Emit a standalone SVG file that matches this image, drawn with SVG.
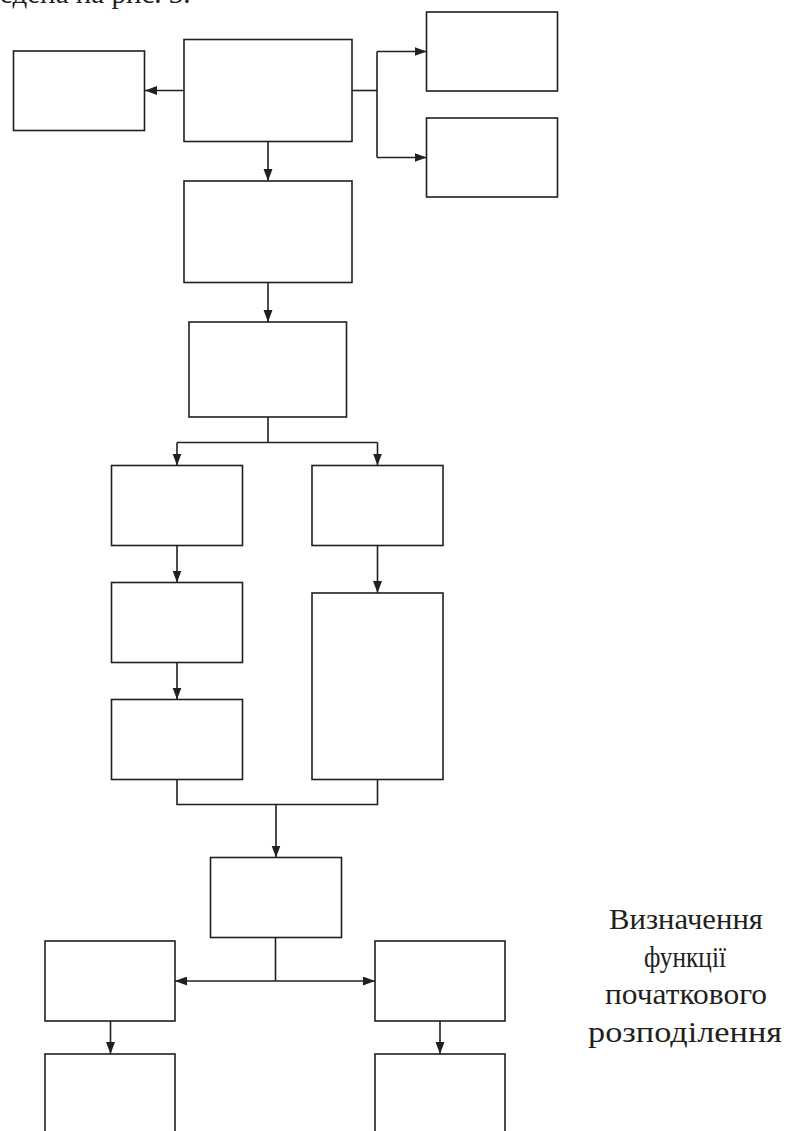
<svg xmlns="http://www.w3.org/2000/svg" width="787" height="1131" viewBox="0 0 787 1131">
  <style>
    .box { fill: #ffffff; stroke: #231f20; stroke-width: 1.6; }
    .wire { fill: none; stroke: #231f20; stroke-width: 1.6; }
    .txt { font-family: "Liberation Serif", "Times New Roman", serif; fill: #231f20; }
  </style>
  <defs>
    <marker id="arrow" markerUnits="userSpaceOnUse" markerWidth="13" markerHeight="10" refX="12" refY="4.5" orient="auto">
      <path d="M0,0 L12,4.5 L0,9 z" fill="#231f20"/>
    </marker>
    <marker id="arrowStart" markerUnits="userSpaceOnUse" markerWidth="13" markerHeight="10" refX="0" refY="4.5" orient="auto">
      <path d="M12,0 L0,4.5 L12,9 z" fill="#231f20"/>
    </marker>
  </defs>

  <!-- running text line from the page above the chart -->
  <text class="txt" x="0" y="3" font-size="29">едена на рис. 3.</text>

  <!-- blocks -->
  <g id="n-left-top"><rect class="box" x="13.5" y="51" width="131" height="79.5"/></g>
  <g id="n-main"><rect class="box" x="184" y="39.5" width="168" height="102"/></g>
  <g id="n-right-1"><rect class="box" x="426.5" y="12" width="131" height="79"/></g>
  <g id="n-right-2"><rect class="box" x="426.5" y="118" width="131" height="79"/></g>
  <g id="n-second"><rect class="box" x="184" y="181" width="168" height="101.5"/></g>
  <g id="n-third"><rect class="box" x="189" y="322" width="157.5" height="95"/></g>
  <g id="n-a1"><rect class="box" x="111.5" y="465.5" width="131" height="80"/></g>
  <g id="n-b1"><rect class="box" x="312" y="465.5" width="131" height="80"/></g>
  <g id="n-a2"><rect class="box" x="111.5" y="582.5" width="131" height="80"/></g>
  <g id="n-b2"><rect class="box" x="312" y="593" width="131" height="186.5"/></g>
  <g id="n-a3"><rect class="box" x="111.5" y="699.5" width="131" height="80"/></g>
  <g id="n-merge"><rect class="box" x="210.5" y="857.5" width="131" height="80"/></g>
  <g id="n-c1"><rect class="box" x="45" y="941" width="130" height="80"/></g>
  <g id="n-d1"><rect class="box" x="375" y="941" width="130" height="80"/></g>
  <g id="n-c2"><rect class="box" x="45" y="1054" width="130" height="100"/></g>
  <g id="n-d2"><rect class="box" x="375" y="1054" width="130" height="100"/></g>

  <!-- connectors -->
  <g id="connectors">
    <path class="wire" d="M184,90.5 H145" marker-end="url(#arrow)"/>
    <path class="wire" d="M352,90.5 H377"/>
    <path class="wire" d="M377,51.5 V157.5"/>
    <path class="wire" d="M377,51.5 H426.5" marker-end="url(#arrow)"/>
    <path class="wire" d="M377,157.5 H426.5" marker-end="url(#arrow)"/>
    <path class="wire" d="M268,141.5 V181" marker-end="url(#arrow)"/>
    <path class="wire" d="M268,282.5 V322" marker-end="url(#arrow)"/>
    <path class="wire" d="M268,417 V442.5"/>
    <path class="wire" d="M177,442.5 H377.5"/>
    <path class="wire" d="M177,442.5 V465.5" marker-end="url(#arrow)"/>
    <path class="wire" d="M377.5,442.5 V465.5" marker-end="url(#arrow)"/>
    <path class="wire" d="M177,545.5 V582.5" marker-end="url(#arrow)"/>
    <path class="wire" d="M377.5,545.5 V593" marker-end="url(#arrow)"/>
    <path class="wire" d="M177,662.5 V699.5" marker-end="url(#arrow)"/>
    <path class="wire" d="M177,779.5 V804.5 H377.5 V779.5"/>
    <path class="wire" d="M276,804.5 V857.5" marker-end="url(#arrow)"/>
    <path class="wire" d="M275.5,937.5 V981"/>
    <path class="wire" d="M175,981 H375" marker-start="url(#arrowStart)" marker-end="url(#arrow)"/>
    <path class="wire" d="M110.5,1021 V1054" marker-end="url(#arrow)"/>
    <path class="wire" d="M440,1021 V1054" marker-end="url(#arrow)"/>
  </g>

  <!-- side caption -->
  <g id="caption" class="txt" font-size="30" text-anchor="middle">
    <text x="686" y="929" textLength="154" lengthAdjust="spacingAndGlyphs">Визначення</text>
    <text x="685" y="966.5" textLength="82" lengthAdjust="spacingAndGlyphs">функції</text>
    <text x="686" y="1004" textLength="162" lengthAdjust="spacingAndGlyphs">початкового</text>
    <text x="685" y="1041.5" textLength="194" lengthAdjust="spacingAndGlyphs">розподілення</text>
  </g>
</svg>
